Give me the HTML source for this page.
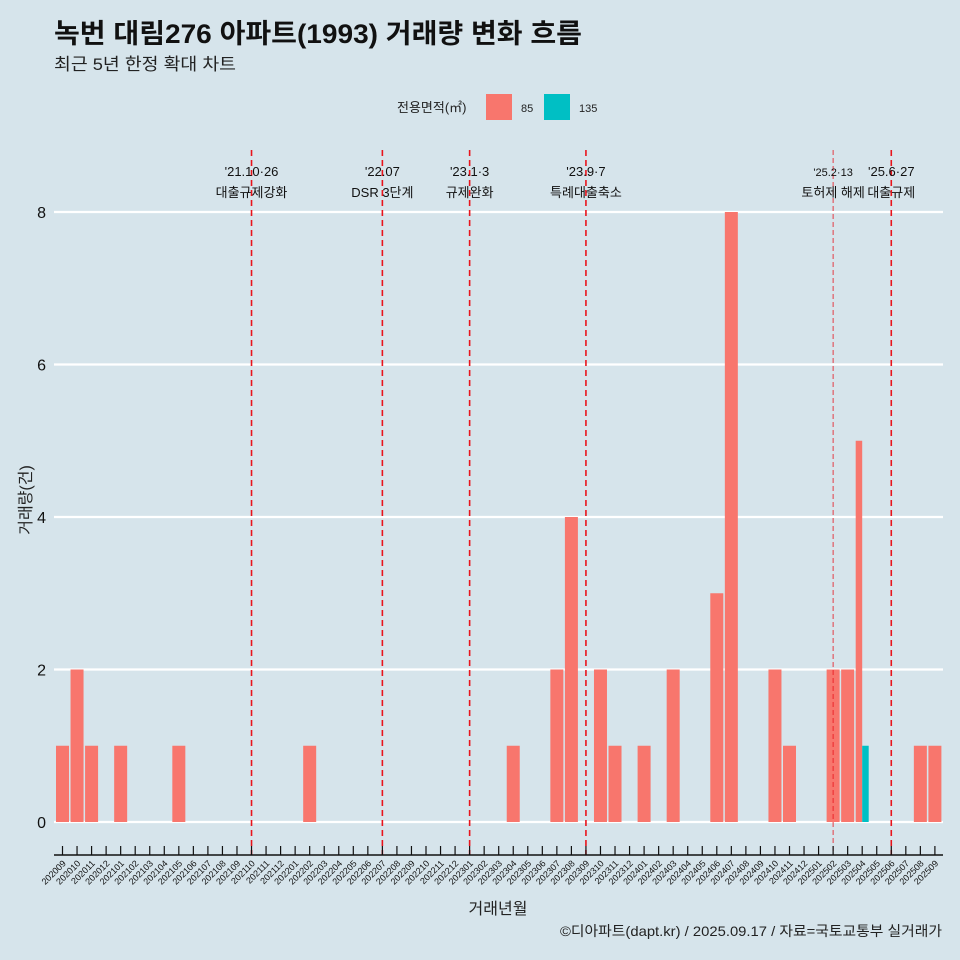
<!DOCTYPE html>
<html><head><meta charset="utf-8"><style>
body{margin:0;background:#d6e4eb;}
svg{display:block;font-family:"Liberation Sans","Noto Sans CJK KR",sans-serif;}
</style></head><body>
<svg id="chart" width="960" height="960" viewBox="0 0 960 960">
<rect width="960" height="960" fill="#d6e4eb"/>
<text x="54" y="43" font-size="27" font-weight="bold" fill="#111" textLength="528" lengthAdjust="spacingAndGlyphs">녹번 대림276 아파트(1993) 거래량 변화 흐름</text>
<text x="54" y="70" font-size="17" fill="#222" textLength="182" lengthAdjust="spacingAndGlyphs">최근 5년 한정 확대 차트</text>
<g>
<text x="397" y="112" font-size="13" fill="#222">전용면적(㎡)</text>
<rect x="486" y="94" width="26" height="26" fill="#f8766d"/>
<text x="521" y="112" font-size="11" fill="#222">85</text>
<rect x="544" y="94" width="26" height="26" fill="#00bfc4"/>
<text x="579" y="112" font-size="11" fill="#222">135</text>
</g>
<g id="grid"></g><g id="bars"></g><g id="events"></g><g id="xaxis"></g>
<text x="31" y="500" font-size="16" fill="#222" transform="rotate(-90 31 500)" text-anchor="middle">거래량(건)</text>
<text x="498" y="914" font-size="16" fill="#222" text-anchor="middle">거래년월</text>
<text x="942" y="936" font-size="14" fill="#222" text-anchor="end" textLength="382" lengthAdjust="spacingAndGlyphs">©디아파트(dapt.kr) / 2025.09.17 / 자료=국토교통부 실거래가</text>
</svg>
<script>
const months = [];
for (let y = 2020; y <= 2025; y++) for (let m = 1; m <= 12; m++) {
  const k = y * 100 + m; if (k >= 202009 && k <= 202509) months.push(String(k));
}
const months85 = ["202009","202010","202011","202101","202105","202202","202304","202307","202308","202310","202311","202401","202403","202406","202407","202410","202411","202502","202503","202504","202508","202509"];
const values85 = [1,2,1,1,1,1,1,2,4,2,1,1,2,3,8,2,1,2,2,5,1,1];
const months135 = ["202504"];
const values135 = [1];
const yTicks = [0,2,4,6,8];
const eventMonths = ["202110","202207","202301","202309","202502","202506"];
const eventDates = ["'21.10·26","'22.07","'23.1·3","'23.9·7","'25.2·13","'25.6·27"];
const eventLabels = ["대출규제강화","DSR 3단계","규제완화","특례대출축소","토허제 해제","대출규제"];

const NS = "http://www.w3.org/2000/svg";
const x0 = 62.5, step = 14.54, bw = 13;
const xs = m => x0 + months.indexOf(m) * step;
const ys = v => 822 - v * 76.25;
function mk(tag, attrs, parent, txt) {
  const e = document.createElementNS(NS, tag);
  for (const k in attrs) e.setAttribute(k, attrs[k]);
  if (txt !== undefined) e.textContent = txt;
  document.getElementById(parent).appendChild(e); return e;
}
yTicks.forEach(t => {
  let l = mk("line", {x1:54, x2:943, y1:ys(t), y2:ys(t), stroke:"#fff", "stroke-width":2.2}, "grid");
  
  
  let tx = mk("text", {x:46, y:ys(t)+6, "font-size":16, fill:"#111", "text-anchor":"end"}, "grid", String(t));
  
  
});
months85.forEach((m, i) => {
  const dodge = months135.includes(m);
  const w = dodge ? bw/2 : bw;
  const x = dodge ? xs(m) - w : xs(m) - w/2;
  let r = mk("rect", {x:x, y:ys(values85[i]), width:w, height:ys(0)-ys(values85[i]), fill:"#f8766d"}, "bars");
  
  
});
months135.forEach((m, i) => {
  const w = bw/2;
  let r = mk("rect", {x:xs(m), y:ys(values135[i]), width:w, height:ys(0)-ys(values135[i]), fill:"#00bfc4"}, "bars");
  
  
});
eventMonths.forEach((m, i) => {
  const x = xs(m);
  const thin = m === "202502";
  let l = mk("line", {x1:x, x2:x, y1:150, y2:855, stroke:"#e8141c", "stroke-width":thin?1:1.6, "stroke-dasharray":thin?"5,3":"6,4", opacity:thin?0.8:1}, "events");
  
  
  let d = mk("text", {x:x, y:176, "font-size":thin?11:13, fill:"#111", "text-anchor":"middle"}, "events", eventDates[i]);
  
  
  let t = mk("text", {x:x, y:197, "font-size":13, fill:"#111", "text-anchor":"middle"}, "events", eventLabels[i]);
  
  
});
let ax = mk("line", {x1:54, x2:943, y1:855, y2:855, stroke:"#111", "stroke-width":1.5}, "xaxis");


months.forEach(m => {
  const x = xs(m);
  let tk = mk("line", {x1:x, x2:x, y1:846, y2:855, stroke:"#111", "stroke-width":1.2}, "xaxis");
  
  
  let lb = mk("text", {x:x+4, y:864, "font-size":9, fill:"#111", "text-anchor":"end", transform:`rotate(-45 ${x+4} 864)`}, "xaxis", m);
  
  
});
</script>
</body></html>
